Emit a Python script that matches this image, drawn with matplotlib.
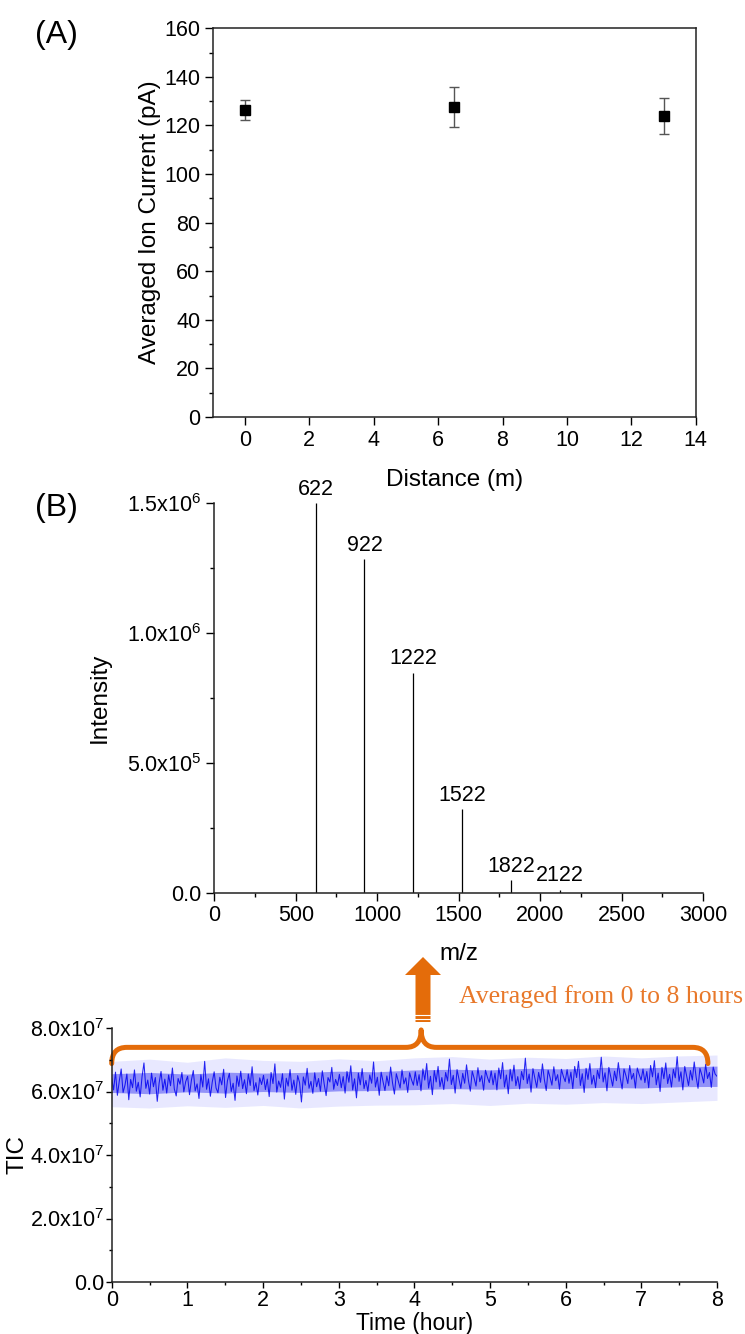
import numpy as np
import matplotlib
matplotlib.use('Agg')
import matplotlib.pyplot as plt
from matplotlib.path import Path
from matplotlib.patches import PathPatch, Polygon
from matplotlib.ticker import MultipleLocator, FixedLocator, FixedFormatter

plt.rcParams['font.family'] = ['Liberation Sans', 'DejaVu Sans']
plt.rcParams['mathtext.default'] = 'regular'

# ---------------- data ----------------
# Panel A
distance = [0, 6.5, 13]
ion_current = [126.2, 127.7, 123.9]
ion_current_err = [4.1, 8.2, 7.3]

# Panel B
peak_mz = [622, 922, 1222, 1522, 1822, 2122]
peak_intensity = [1.50e6, 1.283e6, 0.847e6, 0.322e6, 0.047e6, 0.012e6]
peak_labels = ['622', '922', '1222', '1522', '1822', '2122']
b_yticks = [0, 5e5, 1e6, 1.5e6]
b_yticklabels = ['0.0', '5.0x10$^{5}$', '1.0x10$^{6}$', '1.5x10$^{6}$']

# Panel C (TIC, units of 1e7)
tic_hour0 = [6.42, 6.05, 6.61, 5.88, 6.33, 6.71, 5.97, 6.20, 6.55, 5.74, 6.38, 6.12, 6.68, 6.01, 6.29, 5.83, 6.47, 6.90, 6.10, 6.36,
             5.92, 6.58, 6.15, 6.44, 5.69, 6.27, 6.63, 6.04, 6.39, 5.95, 6.52, 6.18, 6.74, 6.08, 5.86, 6.41, 6.23, 6.60, 5.99, 6.31]
tic_hour1 = [6.48, 5.90, 6.35, 6.66, 6.02, 6.24, 5.78, 6.53, 6.14, 6.95, 6.07, 6.40, 5.85, 6.30, 6.62, 6.11, 5.96, 6.45, 6.21, 6.70,
             5.81, 6.34, 6.57, 6.00, 6.26, 5.72, 6.49, 6.16, 6.64, 6.09, 6.37, 5.93, 6.55, 6.19, 6.78, 6.03, 6.28, 5.89, 6.43, 6.22]
tic_hour2 = [6.51, 6.06, 6.39, 5.84, 6.60, 6.25, 6.87, 5.98, 6.33, 6.13, 6.56, 5.76, 6.42, 6.17, 6.69, 6.04, 6.36, 5.91, 6.50, 6.28,
             5.67, 6.46, 6.20, 6.73, 6.10, 6.32, 5.94, 6.59, 6.15, 6.41, 6.01, 6.65, 6.23, 5.87, 6.44, 6.30, 6.76, 6.07, 6.38, 6.19]
tic_hour3 = [6.54, 6.12, 6.47, 5.95, 6.63, 6.29, 6.81, 6.05, 6.40, 5.80, 6.58, 6.21, 6.72, 6.09, 6.35, 6.00, 6.52, 6.26, 6.93, 6.14,
             6.45, 5.88, 6.61, 6.31, 6.03, 6.49, 6.18, 6.77, 6.27, 5.92, 6.56, 6.34, 6.11, 6.68, 6.24, 6.43, 5.97, 6.59, 6.37, 6.20]
tic_hour4 = [6.62, 6.19, 6.53, 6.02, 6.71, 6.36, 6.88, 6.11, 6.48, 5.90, 6.66, 6.30, 6.79, 6.15, 6.44, 6.06, 6.60, 6.33, 7.02, 6.22,
             6.51, 5.95, 6.69, 6.39, 6.10, 6.57, 6.26, 6.84, 6.35, 6.01, 6.64, 6.42, 6.17, 6.75, 6.31, 6.50, 6.04, 6.67, 6.45, 6.28]
tic_hour5 = [6.65, 6.21, 6.58, 6.05, 6.74, 6.40, 6.91, 6.14, 6.52, 5.93, 6.70, 6.33, 6.83, 6.18, 6.47, 6.08, 6.63, 6.37, 7.05, 6.25,
             6.55, 5.98, 6.72, 6.42, 6.13, 6.60, 6.29, 6.87, 6.38, 6.03, 6.67, 6.45, 6.20, 6.78, 6.34, 6.53, 6.07, 6.70, 6.48, 6.31]
tic_hour6 = [6.69, 6.26, 6.61, 6.09, 6.79, 6.44, 6.95, 6.19, 6.56, 5.97, 6.73, 6.38, 6.88, 6.23, 6.51, 6.12, 6.67, 6.41, 7.08, 6.30,
             6.59, 6.02, 6.76, 6.47, 6.17, 6.64, 6.34, 6.91, 6.43, 6.08, 6.71, 6.50, 6.25, 6.82, 6.39, 6.57, 6.11, 6.74, 6.53, 6.36]
tic_hour7 = [6.71, 6.28, 6.63, 6.12, 6.82, 6.46, 6.97, 6.21, 6.58, 6.00, 6.76, 6.40, 6.90, 6.25, 6.54, 6.14, 6.70, 6.43, 7.10, 6.32,
             6.62, 6.05, 6.79, 6.49, 6.19, 6.66, 6.36, 6.93, 6.45, 6.10, 6.73, 6.52, 6.27, 6.85, 6.41, 6.60, 6.13, 6.77, 6.55, 6.48]
# read-off envelopes of the TIC band (every half hour, units of 1e7)
env_hours = [0, 0.5, 1, 1.5, 2, 2.5, 3, 3.5, 4, 4.5, 5, 5.5, 6, 6.5, 7, 7.5, 8]
env_outer_low = [5.52, 5.48, 5.55, 5.50, 5.56, 5.48, 5.54, 5.57, 5.58, 5.62, 5.56, 5.63, 5.60, 5.65, 5.62, 5.67, 5.72]
env_outer_high = [6.95, 7.02, 6.92, 7.06, 6.98, 6.95, 7.03, 6.97, 7.06, 7.10, 7.02, 7.08, 7.04, 7.12, 7.06, 7.12, 7.15]
env_core_low = [5.97, 5.93, 5.99, 5.95, 6.00, 5.97, 6.02, 6.03, 6.06, 6.09, 6.07, 6.11, 6.09, 6.13, 6.11, 6.15, 6.16]
env_core_high = [6.56, 6.60, 6.55, 6.61, 6.58, 6.60, 6.64, 6.62, 6.68, 6.70, 6.68, 6.73, 6.71, 6.76, 6.74, 6.78, 6.80]
c_yticks = [0, 2e7, 4e7, 6e7, 8e7]
c_yticklabels = ['0.0', '2.0x10$^{7}$', '4.0x10$^{7}$', '6.0x10$^{7}$', '8.0x10$^{7}$']

tic_values = np.array(tic_hour0 + tic_hour1 + tic_hour2 + tic_hour3 +
                      tic_hour4 + tic_hour5 + tic_hour6 + tic_hour7) * 1e7
tic_time = np.linspace(0, 8, len(tic_values))

ORANGE = '#E46C0A'
W, H = 745, 1334

fig = plt.figure(figsize=(W / 100, H / 100), dpi=100)


def px_axes(left, top, right, bottom):
    return fig.add_axes([left / W, 1 - bottom / H, (right - left) / W, (bottom - top) / H])


FS = 15.5     # tick labels
LFS = 17.5    # axis labels

# ---------------- Panel A ----------------
axA = px_axes(212.7, 28.3, 695.7, 417)
axA.errorbar(distance, ion_current, yerr=ion_current_err, fmt='s', color='black',
             ms=6.5, ecolor='#555555', elinewidth=1.0, capsize=3.5, capthick=1.0)
axA.set_xlim(-1, 14)
axA.set_ylim(0, 160)
axA.xaxis.set_major_locator(MultipleLocator(2))
axA.yaxis.set_major_locator(MultipleLocator(20))
axA.yaxis.set_minor_locator(MultipleLocator(10))
axA.tick_params(which='major', direction='out', length=6, width=1, labelsize=FS, pad=3)
axA.tick_params(which='minor', direction='out', length=3, width=1)
axA.tick_params(axis='x', which='minor', length=0)
for s in axA.spines.values():
    s.set_linewidth(1.1)
    s.set_color('#222222')
axA.set_xlabel('Distance (m)', fontsize=LFS, labelpad=13)
axA.set_ylabel('Averaged Ion Current (pA)', fontsize=LFS, labelpad=2)
fig.text(56 / W, 1 - 35 / H, '(A)', fontsize=23, ha='center', va='center')

# ---------------- Panel B ----------------
axB = px_axes(214.3, 503, 703, 892.7)
axB.vlines(peak_mz, 0, peak_intensity, color='black', lw=0.9)
for mz, inten, lab in zip(peak_mz, peak_intensity, peak_labels):
    axB.annotate(lab, (mz, inten), xytext=(0, 10), textcoords='offset points',
                 ha='center', va='center', fontsize=FS, annotation_clip=False)
axB.set_xlim(0, 3000)
axB.set_ylim(0, 1.5e6)
axB.spines['top'].set_visible(False)
axB.spines['right'].set_visible(False)
axB.xaxis.set_major_locator(MultipleLocator(500))
axB.xaxis.set_minor_locator(MultipleLocator(250))
axB.yaxis.set_major_locator(FixedLocator(b_yticks))
axB.yaxis.set_major_formatter(FixedFormatter(b_yticklabels))
axB.yaxis.set_minor_locator(MultipleLocator(2.5e5))
axB.tick_params(which='major', direction='out', length=6, width=1, labelsize=FS, pad=3)
axB.tick_params(which='minor', direction='out', length=3, width=1)
for s in axB.spines.values():
    s.set_linewidth(1.1)
    s.set_color('#222222')
axB.set_xlabel('m/z', fontsize=LFS, labelpad=12)
axB.set_ylabel('Intensity', fontsize=LFS, labelpad=12)
fig.text(56 / W, 1 - 508 / H, '(B)', fontsize=23, ha='center', va='center')

# ---------------- Panel C ----------------
axC = px_axes(111.7, 1028, 717, 1282)
axC.fill_between(env_hours, np.array(env_outer_low) * 1e7, np.array(env_outer_high) * 1e7,
                 color='#9A9AFF', alpha=0.22, lw=0)
axC.fill_between(env_hours, np.array(env_core_low) * 1e7, np.array(env_core_high) * 1e7,
                 color='#2A2AF0', alpha=0.45, lw=0)
axC.plot(tic_time, tic_values, color='#0000F0', lw=0.75, alpha=0.85)
axC.set_xlim(0, 8)
axC.set_ylim(0, 8e7)
axC.spines['top'].set_visible(False)
axC.spines['right'].set_visible(False)
axC.xaxis.set_major_locator(MultipleLocator(1))
axC.xaxis.set_minor_locator(MultipleLocator(0.5))
axC.yaxis.set_major_locator(FixedLocator(c_yticks))
axC.yaxis.set_major_formatter(FixedFormatter(c_yticklabels))
axC.yaxis.set_minor_locator(MultipleLocator(1e7))
axC.tick_params(which='major', direction='out', length=4.5, width=1, labelsize=FS, pad=1)
axC.tick_params(which='minor', direction='out', length=2.5, width=1)
for s in axC.spines.values():
    s.set_linewidth(1.1)
    s.set_color('#222222')
axC.set_xlabel('Time (hour)', fontsize=16.5, labelpad=1)
axC.set_ylabel('TIC', fontsize=LFS, labelpad=1)

# brace over the TIC trace
brace_x0, brace_x1, brace_xm = 0.0, 7.88, 4.09
brace_y, brace_end_y, brace_tip_y = 7.39e7, 6.88e7, 7.94e7
dx = 0.2
verts = [(brace_x0, brace_end_y), (brace_x0, brace_y), (brace_x0 + dx, brace_y),
         (brace_xm - dx, brace_y), (brace_xm, brace_y), (brace_xm, brace_tip_y),
         (brace_xm, brace_y), (brace_xm + dx, brace_y),
         (brace_x1 - dx, brace_y), (brace_x1, brace_y), (brace_x1, brace_end_y)]
codes = [Path.MOVETO, Path.CURVE3, Path.CURVE3,
         Path.LINETO, Path.CURVE3, Path.CURVE3,
         Path.CURVE3, Path.CURVE3,
         Path.LINETO, Path.CURVE3, Path.CURVE3]
axC.add_patch(PathPatch(Path(verts, codes), fill=False, edgecolor=ORANGE, lw=3.6,
                        capstyle='round', joinstyle='round', clip_on=False))

# upward block arrow (pixel geometry)
ax_c, shaft_hw, head_hw = 423, 7.5, 18
y_base, y_head, y_top = 1022, 975, 957


def fpt(x, y):
    return (x / W, 1 - y / H)


arrow_pts = [fpt(ax_c - shaft_hw, y_base), fpt(ax_c - shaft_hw, y_head), fpt(ax_c - head_hw, y_head),
             fpt(ax_c, y_top), fpt(ax_c + head_hw, y_head), fpt(ax_c + shaft_hw, y_head),
             fpt(ax_c + shaft_hw, y_base)]
fig.patches.append(Polygon(arrow_pts, closed=True, facecolor=ORANGE, edgecolor='none',
                           transform=fig.transFigure))
for yy in (1015, 1019):
    fig.lines.append(plt.Line2D([(ax_c - shaft_hw) / W, (ax_c + shaft_hw) / W], [1 - yy / H, 1 - yy / H],
                                color='white', lw=0.8, transform=fig.transFigure))

fig.text(459 / W, 1 - 997 / H, 'Averaged from 0 to 8 hours', fontsize=18.5, color='#E8782A',
         family=['Liberation Serif', 'DejaVu Serif'], ha='left', va='center')

fig.savefig('out.png', dpi=100)
